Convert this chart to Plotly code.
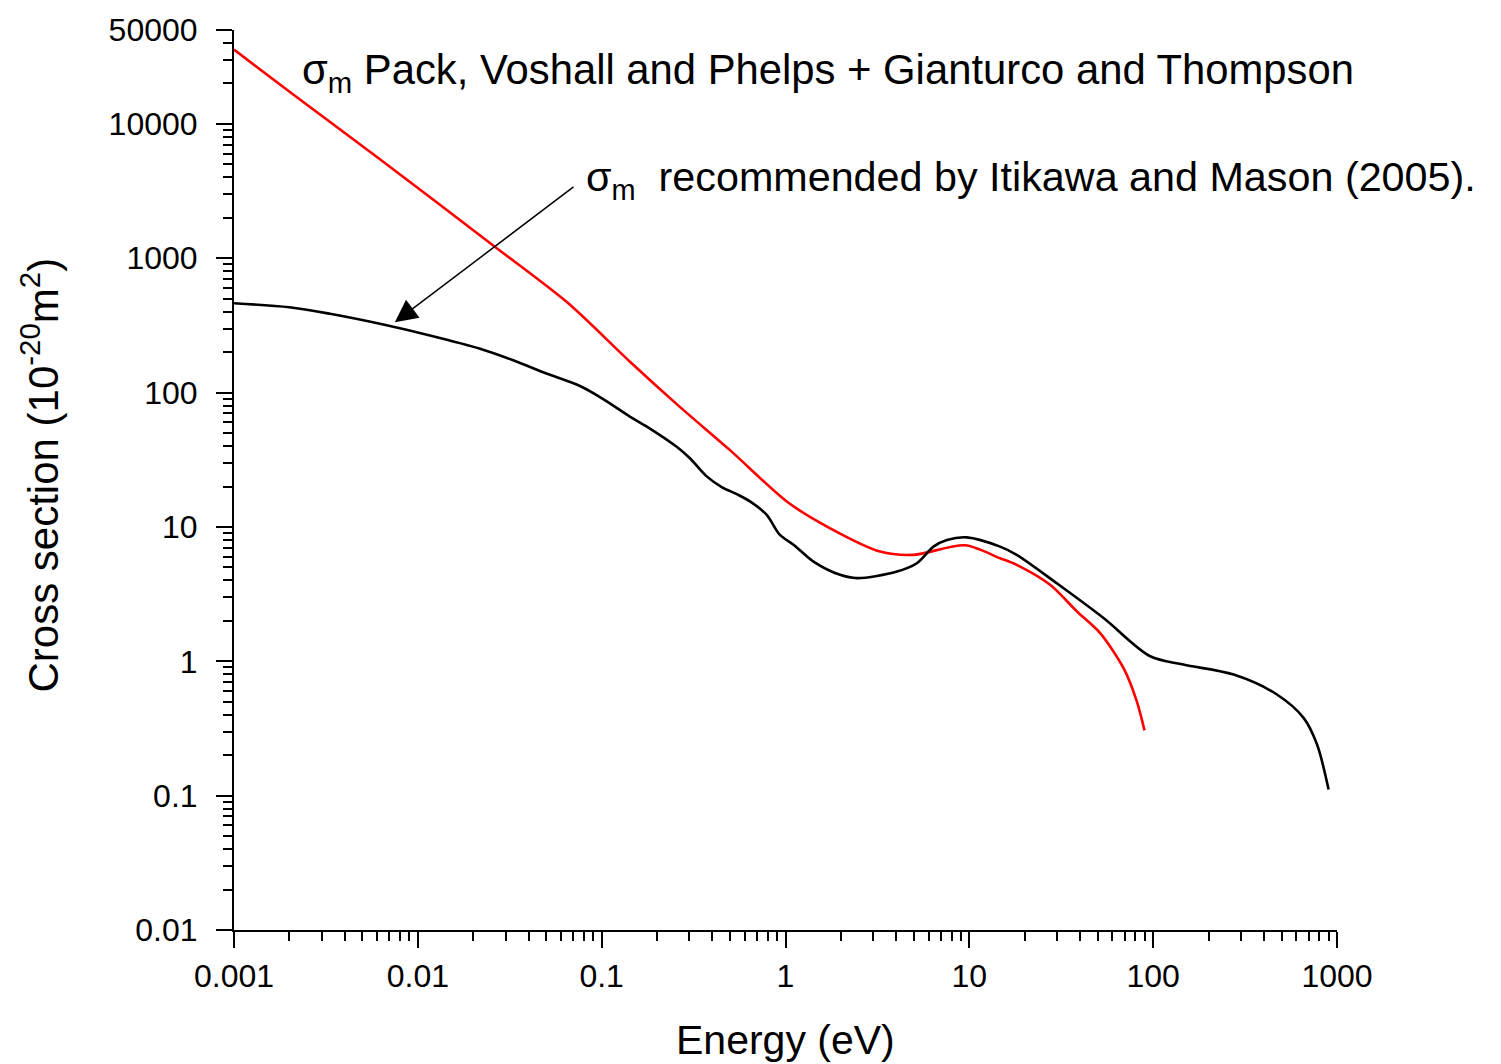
import math
import plotly.graph_objects as go

# Black: sigma_m recommended by Itikawa and Mason (2005)
energy_black = [0.001, 0.002, 0.00333, 0.00622, 0.01164, 0.0218, 0.033, 0.0505, 0.0762, 0.1,
                0.143, 0.183, 0.256, 0.303, 0.37, 0.45, 0.55, 0.65, 0.79, 0.933, 1.11, 1.42,
                1.98, 2.45, 4.04, 5.18, 6.38, 7.55, 9.68, 14.7, 18.1, 29.9, 53.7, 96.4,
                146, 274, 471, 658, 778, 900]
sigma_black = [462, 432, 386, 325, 266, 212, 174, 138, 112, 91,
               66, 54, 39.5, 32.3, 24.0, 19.8, 17.4, 15.3, 12.3, 8.72, 7.35, 5.52,
               4.40, 4.16, 4.66, 5.37, 7.14, 8.0, 8.37, 7.14, 6.2, 3.81, 2.10, 1.09,
               0.945, 0.796, 0.566, 0.379, 0.241, 0.111]

# Red: Pack, Voshall and Phelps + Gianturco and Thompson
energy_red = [0.001, 0.0021, 0.00622, 0.0258, 0.0649, 0.143, 0.267, 0.499, 1.02, 1.75,
              3.27, 4.97, 9.48, 14.7, 18.1, 27.5, 38.5, 51.5, 68.9, 81.4, 89.7]
sigma_red = [35700, 16550, 5455, 1240, 470, 169, 78, 37.3, 15.4, 9.77,
             6.56, 6.2, 7.3, 5.85, 5.22, 3.71, 2.35, 1.62, 0.892, 0.505, 0.306]

y_tickvals = [0.01, 0.1, 1, 10, 100, 1000, 10000, 50000]
y_ticktext = ["0.01", "0.1", "1", "10", "100", "1000", "10000", "50000"]
x_tickvals = [0.001, 0.01, 0.1, 1, 10, 100, 1000]
x_ticktext = ["0.001", "0.01", "0.1", "1", "10", "100", "1000"]

# arrow (tip and tail in data units)
arrow_tip = (0.0075, 334)
arrow_tail = (0.0716, 3460)

x_minor = [m * 10 ** k for k in range(-3, 3) for m in range(2, 10)]
y_minor = [m * 10 ** k for k in range(-2, 4) for m in range(2, 10)] + [20000, 30000, 40000]

FONT = "Liberation Sans, Arial, sans-serif"

fig = go.Figure()
fig.add_trace(go.Scatter(x=energy_red, y=sigma_red, mode="lines",
                         line=dict(color="#ff0000", width=2.6, shape="spline", smoothing=0.8),
                         showlegend=False))
fig.add_trace(go.Scatter(x=energy_black, y=sigma_black, mode="lines",
                         line=dict(color="#000000", width=2.6, shape="spline", smoothing=0.9),
                         showlegend=False))

axis_common = dict(showline=True, linecolor="black", linewidth=2, ticks="outside",
                   ticklen=16, tickwidth=2, tickcolor="black", showgrid=False,
                   zeroline=False, mirror=False,
                   tickfont=dict(family=FONT, size=32, color="black"))

fig.update_xaxes(type="log", range=[-3, 3], tickvals=x_tickvals, ticktext=x_ticktext,
                 ticklabelstandoff=1,
                 minor=dict(tickvals=x_minor, ticks="outside", ticklen=9, tickwidth=2,
                            tickcolor="black", showgrid=False),
                 **axis_common)
fig.update_yaxes(type="log", range=[-2, math.log10(50000)], tickvals=y_tickvals,
                 ticktext=y_ticktext, ticklabelstandoff=12,
                 minor=dict(tickvals=y_minor, ticks="outside", ticklen=9, tickwidth=2,
                            tickcolor="black", showgrid=False),
                 **axis_common)

W, H = 1501, 1064
L, R, T, B = 234, 164, 27, 134
pw, ph = W - L - R, H - T - B


def px(xp):
    return (xp - L) / pw


def py(yp):
    return (H - B - yp) / ph


annotations = [
    dict(text="Energy (eV)", xref="paper", yref="paper", x=px(785), y=py(1040),
         xanchor="center", yanchor="middle", showarrow=False,
         font=dict(family=FONT, size=41, color="black")),
    dict(text="Cross section (10<sup>-20</sup>m<sup>2</sup>)", xref="paper", yref="paper",
         x=px(40), y=py(474), xanchor="center", yanchor="middle", textangle=-90,
         showarrow=False, font=dict(family=FONT, size=42, color="black")),
    dict(text="σ<sub>m</sub> Pack, Voshall and Phelps + Gianturco and Thompson",
         xref="paper", yref="paper", x=px(300), y=py(70), xanchor="left", yanchor="middle",
         showarrow=False, font=dict(family=FONT, size=41.8, color="black")),
    dict(text="σ<sub>m</sub>  recommended by Itikawa and Mason (2005).",
         xref="paper", yref="paper", x=px(584), y=py(178), xanchor="left", yanchor="middle",
         showarrow=False, font=dict(family=FONT, size=41.3, color="black")),
    dict(text="", xref="x", yref="y", axref="x", ayref="y",
         x=math.log10(arrow_tip[0]), y=math.log10(arrow_tip[1]),
         ax=math.log10(arrow_tail[0]), ay=math.log10(arrow_tail[1]),
         showarrow=True, arrowhead=2, arrowsize=3, arrowwidth=1.5, arrowcolor="black"),
]

fig.update_layout(width=W, height=H, margin=dict(l=L, r=R, t=T, b=B),
                  plot_bgcolor="white", paper_bgcolor="white",
                  annotations=annotations, showlegend=False,
                  font=dict(family=FONT, color="black"))

fig.write_html("out.html")
